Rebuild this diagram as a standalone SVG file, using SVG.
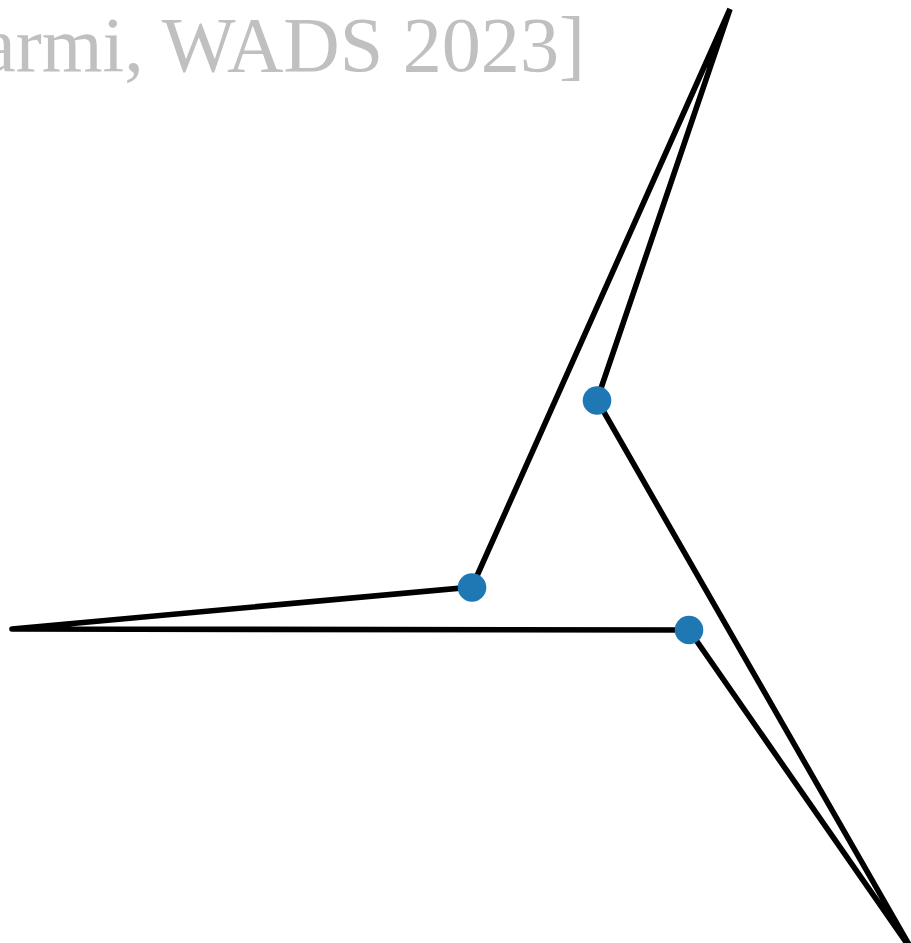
<svg xmlns="http://www.w3.org/2000/svg" width="911" height="943" viewBox="0 0 911 943">
  <style>
    .cite { font-family: "Liberation Serif", "DejaVu Serif", serif; font-size: 78px; fill: #c0c0c0; }
    .edge { fill: none; stroke: #000; stroke-width: 5.6; stroke-linejoin: miter; stroke-linecap: round; }
    .dot { fill: #1f77b4; stroke: none; }
  </style>
  <rect x="0" y="0" width="911" height="943" fill="#fff"/>
  <text class="cite" x="-19" y="71" textLength="604" lengthAdjust="spacingAndGlyphs">armi, WADS 2023]</text>
  <g id="connectors">
    <path class="edge" d="M 12 629 L 472 587 L 730 9 L 597 400 L 915 955 L 689 630 L 12 629"/>
  </g>
  <g id="node-b"><circle class="dot" cx="597" cy="400.5" r="14.3"/></g>
  <g id="node-c"><circle class="dot" cx="472" cy="587.5" r="14.3"/></g>
  <g id="node-e"><circle class="dot" cx="689" cy="630" r="14.3"/></g>
</svg>
